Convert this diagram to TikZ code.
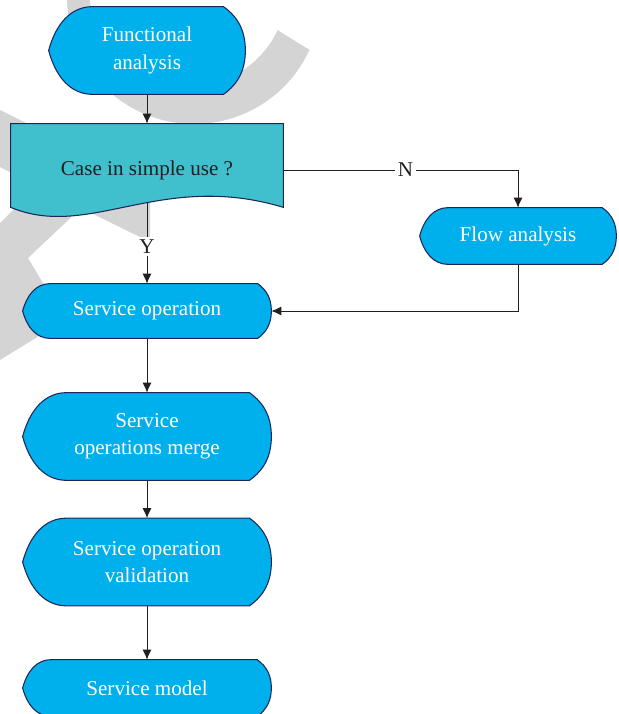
\documentclass[tikz,border=0pt]{standalone}
\usepackage{fontspec}
\setmainfont{Liberation Serif}
\usetikzlibrary{arrows.meta,calc}
\definecolor{dispblue}{RGB}{0,176,236}
\definecolor{caseteal}{RGB}{64,191,205}
\definecolor{edgenavy}{RGB}{28,38,88}
\definecolor{linegray}{RGB}{35,31,32}
\definecolor{markgray}{RGB}{212,212,212}
\pgfdeclarelayer{wmark}
\pgfdeclarelayer{lines}
\pgfdeclarelayer{shapes}
\pgfsetlayers{wmark,lines,shapes,main}
\newcommand{\dispshape}[1]{%
\path[dispfill] let \p1=(#1.west), \p2=(#1.north east), \p3=(#1.south east), \n1={\y2-\y3} in
	(\x1,\y1) .. controls (\x1+0.08*\n1,\y1+0.3*\n1) and (\x1+0.25*\n1,\y2) .. (\x1+0.5*\n1,\y2)
	-- (\x2-0.25*\n1,\y2) .. controls (\x2-0.08*\n1,\y2-0.12*\n1) and (\x2,\y1+0.22*\n1) .. (\x2,\y1)
	.. controls (\x2,\y1-0.22*\n1) and (\x2-0.08*\n1,\y3+0.12*\n1) .. (\x2-0.25*\n1,\y3)
	-- (\x1+0.5*\n1,\y3) .. controls (\x1+0.25*\n1,\y3) and (\x1+0.08*\n1,\y1-0.3*\n1) .. cycle;}
\begin{document}
\begin{tikzpicture}[
x=0.2mm,y=-0.2mm,
every node/.style={font=\fontsize{12}{15.5}\selectfont},
disp/.style={rectangle,inner sep=0pt,text=white,align=center},
dispfill/.style={fill=dispblue,draw=edgenavy,line width=0.6pt},
casefill/.style={fill=caseteal,draw=edgenavy,line width=0.6pt},
conn/.style={draw=linegray,line width=0.55pt,-{Latex[length=2mm,width=1.8mm]}},
lbl/.style={fill=white,text=linegray,inner sep=1.5pt},
markfill/.style={fill=markgray}
]
\useasboundingbox (0,0) rectangle (619,714);
\node[disp,minimum width=39.2mm,minimum height=17.4mm] (func) at (147,50.5) {Functional\\analysis};
\node[disp,text=linegray,minimum width=54.4mm,minimum height=18.4mm] (case) at (147,170) {Case in simple use ?};
\node[disp,minimum width=39.2mm,minimum height=11.2mm] (flow) at (518,236) {Flow analysis};
\node[disp,minimum width=49.6mm,minimum height=10.8mm] (serv) at (147,311) {Service operation};
\node[disp,minimum width=49.6mm,minimum height=17.4mm] (merge) at (147,436.5) {Service\\operations merge};
\node[disp,minimum width=49.6mm,minimum height=17.4mm] (valid) at (147,562) {Service operation\\validation};
\node[disp,minimum width=49.6mm,minimum height=11.2mm] (model) at (147,688) {Service model};
\begin{pgfonlayer}{wmark}
\fill[markfill] ($(194,-3)+(24.6:127)$) arc[start angle=24.6,end angle=190,radius=127]
	-- ($(188,-12)+(190:99)$) arc[start angle=190,end angle=25.2,radius=99] -- cycle;
\fill[markfill] (0,110) -- (150,185) -- (150,242) -- (81,208) -- (28,258) -- (65,320)
	-- (0,360) -- (0,223) -- (37,186) -- (0,167) -- cycle;
\end{pgfonlayer}
\begin{pgfonlayer}{shapes}
\foreach \nd in {func,flow,serv,merge,valid,model} {\dispshape{\nd}}
\path[casefill] (case.north west) -- (case.north east) -- ($(case.south east)+(0,-9)$)
	.. controls ($(case.south east)+(-123,-46)$) and ($(case.south west)+(79,24)$) .. ($(case.south west)+(0,-9)$) -- cycle;
\end{pgfonlayer}
\begin{pgfonlayer}{lines}
\draw[conn] (func) -- (case);
\draw[conn] (case.east) -| node[lbl,pos=0.26] (nlbl) {N} (flow.north);
\draw[conn] (case.center) -- node[lbl,pos=0.675] (ylbl) {Y} (serv.north);
\draw[conn] (flow.south) |- (serv.east);
\draw[conn] (serv) -- (merge);
\draw[conn] (merge) -- (valid);
\draw[conn] (valid) -- (model);
\end{pgfonlayer}
\end{tikzpicture}
\end{document}
